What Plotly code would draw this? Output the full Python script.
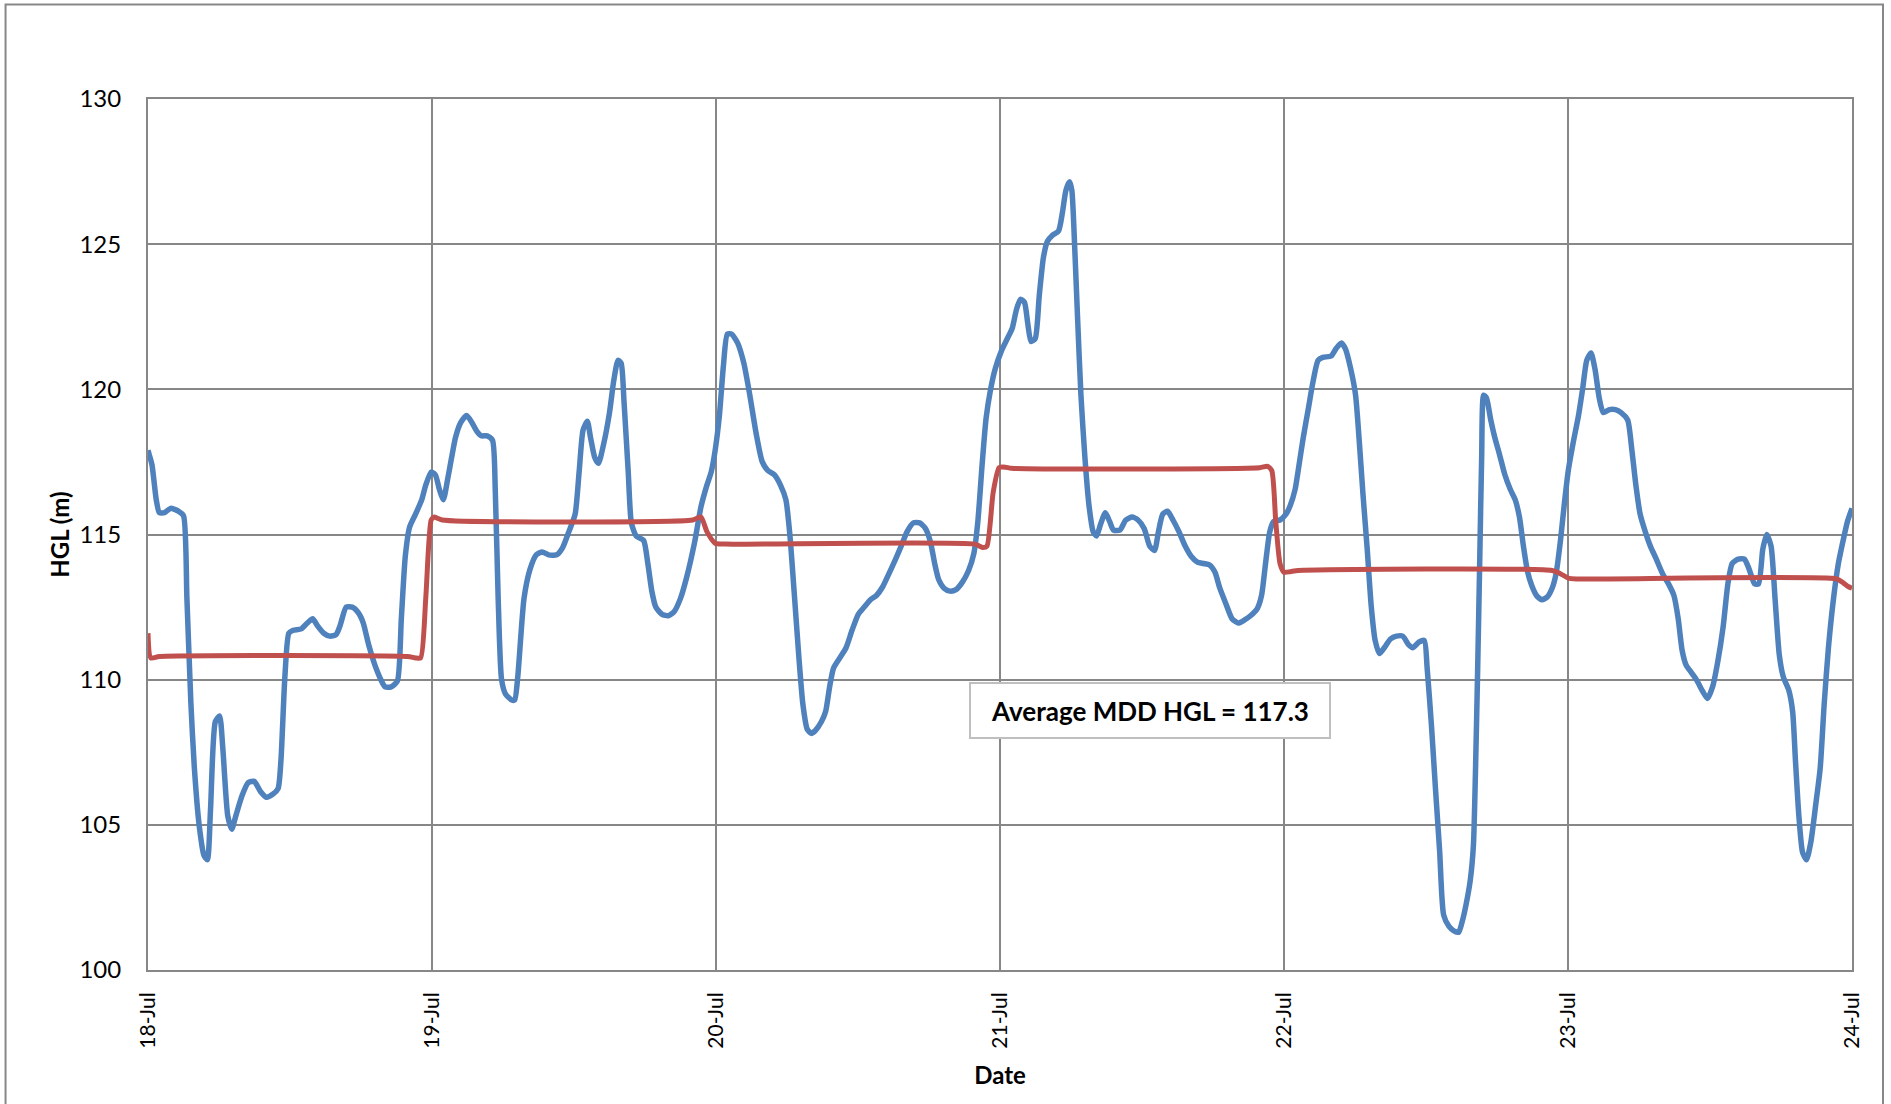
import pandas as pd
import plotly.graph_objects as go

# ---- data ----
start_date = "2012-07-18"

# HGL series: time in days after 18-Jul 00:00, value in m
hgl_days = [0.000, 0.004, 0.014, 0.029, 0.040, 0.058, 0.079, 0.108, 0.125, 0.137, 0.151, 0.163, 0.180,
            0.197, 0.209, 0.220, 0.237, 0.252, 0.263, 0.281, 0.295, 0.309, 0.331, 0.353, 0.374, 0.396,
            0.417, 0.439, 0.458, 0.468, 0.482, 0.496, 0.511, 0.540, 0.561, 0.580, 0.597, 0.619, 0.640,
            0.662, 0.676, 0.698, 0.719, 0.741, 0.758, 0.777, 0.799, 0.820, 0.835, 0.856, 0.878, 0.892,
            0.906, 0.921, 0.942, 0.964, 0.978, 0.997, 1.012, 1.026, 1.040, 1.055, 1.069, 1.083, 1.101,
            1.122, 1.141, 1.158, 1.173, 1.194, 1.213, 1.223, 1.233, 1.245, 1.259, 1.281, 1.291, 1.302,
            1.324, 1.345, 1.367, 1.388, 1.410, 1.439, 1.460, 1.482, 1.504, 1.518, 1.532, 1.547, 1.558,
            1.573, 1.586, 1.604, 1.625, 1.640, 1.655, 1.666, 1.676, 1.691, 1.702, 1.719, 1.745, 1.760,
            1.774, 1.788, 1.810, 1.832, 1.853, 1.875, 1.896, 1.925, 1.947, 1.968, 1.983, 1.997, 2.012,
            2.026, 2.040, 2.055, 2.076, 2.098, 2.119, 2.141, 2.163, 2.183, 2.206, 2.227, 2.246, 2.260,
            2.275, 2.292, 2.306, 2.321, 2.335, 2.350, 2.371, 2.386, 2.400, 2.414, 2.436, 2.458, 2.479,
            2.501, 2.522, 2.544, 2.565, 2.587, 2.609, 2.630, 2.652, 2.673, 2.695, 2.717, 2.738, 2.755,
            2.770, 2.784, 2.803, 2.824, 2.845, 2.867, 2.889, 2.908, 2.922, 2.937, 2.951, 2.966, 2.983,
            3.004, 3.026, 3.043, 3.058, 3.072, 3.086, 3.098, 3.109, 3.124, 3.138, 3.153, 3.167, 3.184,
            3.206, 3.220, 3.232, 3.245, 3.253, 3.263, 3.273, 3.285, 3.299, 3.314, 3.328, 3.340, 3.354,
            3.371, 3.386, 3.400, 3.422, 3.443, 3.465, 3.486, 3.508, 3.527, 3.544, 3.558, 3.573, 3.590,
            3.609, 3.630, 3.652, 3.673, 3.695, 3.717, 3.738, 3.757, 3.774, 3.796, 3.817, 3.839, 3.860,
            3.882, 3.906, 3.921, 3.935, 3.950, 3.964, 3.986, 4.007, 4.022, 4.039, 4.053, 4.068, 4.086,
            4.101, 4.120, 4.137, 4.166, 4.183, 4.202, 4.216, 4.235, 4.252, 4.264, 4.278, 4.293, 4.307,
            4.321, 4.336, 4.353, 4.375, 4.396, 4.418, 4.439, 4.454, 4.476, 4.494, 4.504, 4.519, 4.533,
            4.548, 4.562, 4.581, 4.598, 4.615, 4.627, 4.641, 4.656, 4.667, 4.674, 4.682, 4.689, 4.696,
            4.703, 4.713, 4.728, 4.742, 4.759, 4.778, 4.797, 4.814, 4.829, 4.843, 4.857, 4.872, 4.889,
            4.908, 4.927, 4.944, 4.958, 4.973, 4.987, 5.001, 5.019, 5.037, 5.052, 5.066, 5.081, 5.095,
            5.110, 5.124, 5.146, 5.167, 5.187, 5.210, 5.225, 5.239, 5.254, 5.272, 5.290, 5.311, 5.333,
            5.354, 5.373, 5.388, 5.402, 5.416, 5.434, 5.452, 5.474, 5.491, 5.509, 5.527, 5.546, 5.563,
            5.578, 5.599, 5.621, 5.638, 5.657, 5.671, 5.686, 5.700, 5.715, 5.729, 5.744, 5.758, 5.777,
            5.791, 5.801, 5.813, 5.826, 5.840, 5.855, 5.873, 5.888, 5.902, 5.917, 5.935, 5.952, 5.970,
            5.984, 6.000]
hgl_values = [117.9, 117.76, 117.4, 116.2, 115.75, 115.75, 115.9, 115.8, 115.65, 112.8, 109.2, 107.0, 105.0,
              103.95, 103.8, 105.5, 108.55, 108.75, 107.7, 105.3, 104.85, 105.3, 106.0, 106.45, 106.5, 106.15,
              105.95, 106.05, 106.25, 107.2, 110.1, 111.6, 111.7, 111.75, 111.95, 112.1, 111.85, 111.6, 111.5,
              111.55, 111.85, 112.5, 112.5, 112.3, 111.95, 111.2, 110.5, 110.0, 109.75, 109.75, 109.95, 112.1,
              114.25, 115.25, 115.7, 116.2, 116.7, 117.15, 117.05, 116.55, 116.2, 116.9, 117.65, 118.35, 118.85,
              119.1, 118.85, 118.55, 118.4, 118.4, 118.25, 116.45, 112.8, 110.0, 109.5, 109.3, 109.3, 110.1,
              112.8, 113.8, 114.3, 114.4, 114.3, 114.3, 114.55, 115.1, 115.7, 117.15, 118.6, 118.9, 118.35,
              117.65, 117.45, 118.1, 119.2, 120.3, 121.0, 120.9, 119.6, 117.15, 115.4, 114.95, 114.8, 114.0,
              113.05, 112.5, 112.25, 112.2, 112.35, 112.8, 113.5, 114.75, 115.95, 116.7, 117.15, 117.9, 119.1,
              120.8, 121.9, 121.9, 121.6, 120.9, 119.8, 118.5, 117.5, 117.2, 117.05, 116.7, 116.2, 115.0,
              113.05, 110.75, 109.15, 108.3, 108.15, 108.25, 108.55, 108.9, 109.75, 110.4, 110.75, 111.1, 111.7,
              112.25, 112.5, 112.75, 112.9, 113.2, 113.65, 114.1, 114.6, 115.1, 115.4, 115.4, 115.2, 114.75,
              114.0, 113.45, 113.15, 113.05, 113.1, 113.35, 113.75, 114.35, 115.45, 117.4, 119.0, 119.95, 120.7,
              121.3, 121.75, 122.1, 122.75, 123.1, 123.0, 122.25, 121.65, 121.75, 123.2, 124.55, 125.1, 125.3,
              125.45, 126.1, 126.85, 127.15, 126.85, 124.9, 122.5, 119.8, 117.65, 115.95, 115.1, 114.95, 115.35,
              115.75, 115.45, 115.15, 115.15, 115.5, 115.6, 115.5, 115.2, 114.6, 114.45, 115.1, 115.7, 115.8,
              115.5, 115.1, 114.6, 114.25, 114.05, 114.0, 113.95, 113.7, 113.15, 112.6, 112.1, 111.95, 112.05,
              112.2, 112.45, 112.9, 114.0, 115.1, 115.45, 115.5, 115.7, 116.0, 116.55, 117.4, 118.35, 119.35,
              120.2, 121.0, 121.1, 121.15, 121.4, 121.6, 121.4, 120.7, 119.8, 118.35, 116.4, 114.5, 112.55,
              111.35, 110.9, 111.1, 111.4, 111.5, 111.5, 111.2, 111.1, 111.3, 111.35, 110.4, 108.45, 106.3,
              104.1, 101.9, 101.5, 101.35, 101.3, 101.65, 102.25, 103.1, 104.3, 106.75, 110.4, 114.0, 117.65,
              119.8, 119.7, 118.95, 118.35, 117.75, 117.05, 116.55, 116.2, 115.6, 114.6, 113.75, 113.25, 112.9,
              112.75, 112.85, 113.15, 113.65, 114.75, 116.05, 117.2, 118.2, 119.1, 120.05, 121.0, 121.25, 120.7,
              119.7, 119.2, 119.3, 119.3, 119.2, 118.95, 117.9, 116.7, 115.7, 115.1, 114.6, 114.15, 113.65,
              113.3, 112.9, 112.1, 111.0, 110.5, 110.25, 110.0, 109.6, 109.35, 109.75, 110.6, 111.8, 113.3,
              114.0, 114.15, 114.15, 113.8, 113.3, 113.3, 114.5, 115.0, 114.6, 112.8, 110.85, 110.1, 109.65,
              108.9, 107.2, 105.3, 104.05, 103.8, 104.4, 105.75, 106.95, 109.15, 111.1, 112.8, 114.0, 114.85,
              115.45, 115.9]

# Daily average HGL (red line)
avg_days = [0.000, 0.010, 0.040, 0.914, 0.942, 0.960, 0.978, 0.997, 1.007, 1.036, 1.918, 1.947, 1.968,
            1.997, 2.033, 2.911, 2.940, 2.954, 2.976, 2.997, 3.019, 3.040, 3.914, 3.942, 3.957, 3.971,
            3.986, 4.000, 4.022, 4.050, 4.944, 4.973, 5.001, 5.030, 5.945, 5.967, 5.988, 6.000]
avg_values = [111.6, 110.75, 110.8, 110.8, 110.75, 110.75, 112.8, 115.5, 115.6, 115.5, 115.5, 115.6, 115.1,
              114.7, 114.67, 114.67, 114.55, 114.6, 116.45, 117.3, 117.32, 117.28, 117.3, 117.35, 117.2, 115.45,
              114.0, 113.7, 113.72, 113.76, 113.76, 113.65, 113.5, 113.47, 113.47, 113.35, 113.2, 113.15]

y_ticks = [100, 105, 110, 115, 120, 125, 130]
x_tick_labels = ["18-Jul", "19-Jul", "20-Jul", "21-Jul", "22-Jul", "23-Jul", "24-Jul"]
note_text = "Average MDD HGL = 117.3"
note_day, note_value = 3.528, 108.94

# ---- build ----
base = pd.Timestamp(start_date)
hgl_x = base + pd.to_timedelta(hgl_days, unit="D")
avg_x = base + pd.to_timedelta(avg_days, unit="D")
tick_x = [base + pd.Timedelta(days=i) for i in range(len(x_tick_labels))]

FONT = "Lato"
GRID = "#878787"

fig = go.Figure()
fig.add_trace(go.Scatter(x=hgl_x, y=hgl_values, mode="lines",
                         line=dict(color="#4F81BD", width=5.5, shape="spline", smoothing=0.6),
                         name="HGL", showlegend=False))
fig.add_trace(go.Scatter(x=avg_x, y=avg_values, mode="lines",
                         line=dict(color="#C0504D", width=5, shape="spline", smoothing=0.6),
                         name="Average", showlegend=False))

fig.add_annotation(x=base + pd.Timedelta(days=note_day), y=note_value, xref="x", yref="y",
                   text="<b>" + note_text + "</b>", showarrow=False,
                   font=dict(family=FONT, size=26, color="#000000"),
                   bgcolor="#FFFFFF", bordercolor="#BFBFBF", borderwidth=2,
                   width=356, height=51, borderpad=1)

# outer chart border (Excel chart-area frame)
fig.add_shape(type="rect", xref="paper", yref="paper",
              x0=-0.0836, x1=1.0182, y0=-0.2, y1=1.1085,
              line=dict(color=GRID, width=2), fillcolor="rgba(0,0,0,0)", layer="below")

fig.update_layout(
    width=1891, height=1104,
    margin=dict(l=148, r=39, t=99, b=134),
    paper_bgcolor="#FFFFFF", plot_bgcolor="#FFFFFF",
    font=dict(family=FONT, size=24, color="#000000"),
    showlegend=False,
)
fig.update_xaxes(
    type="date", range=[tick_x[0], tick_x[-1]],
    tickvals=tick_x, ticktext=x_tick_labels, tickangle=-90,
    showgrid=True, gridcolor=GRID, gridwidth=2,
    showline=True, linecolor=GRID, linewidth=2, mirror=True,
    ticks="", ticklabelstandoff=12,
    tickfont=dict(family=FONT, size=21),
    title=dict(text="<b>Date</b>", font=dict(family=FONT, size=24), standoff=20),
    zeroline=False,
)
fig.update_yaxes(
    range=[100, 130], tickvals=y_ticks,
    showgrid=True, gridcolor=GRID, gridwidth=2,
    showline=True, linecolor=GRID, linewidth=2, mirror=True,
    ticks="", ticklabelstandoff=20,
    tickfont=dict(family=FONT, size=24),
    title=dict(text="<b>HGL (m)</b>", font=dict(family=FONT, size=24), standoff=3),
    zeroline=False,
)

# remove the browser's default body margin so the figure fills the window exactly
fig.write_html(
    "out.html",
    config={"displayModeBar": False},
    post_script="document.body.style.margin='0';document.body.style.overflow='hidden';",
)
